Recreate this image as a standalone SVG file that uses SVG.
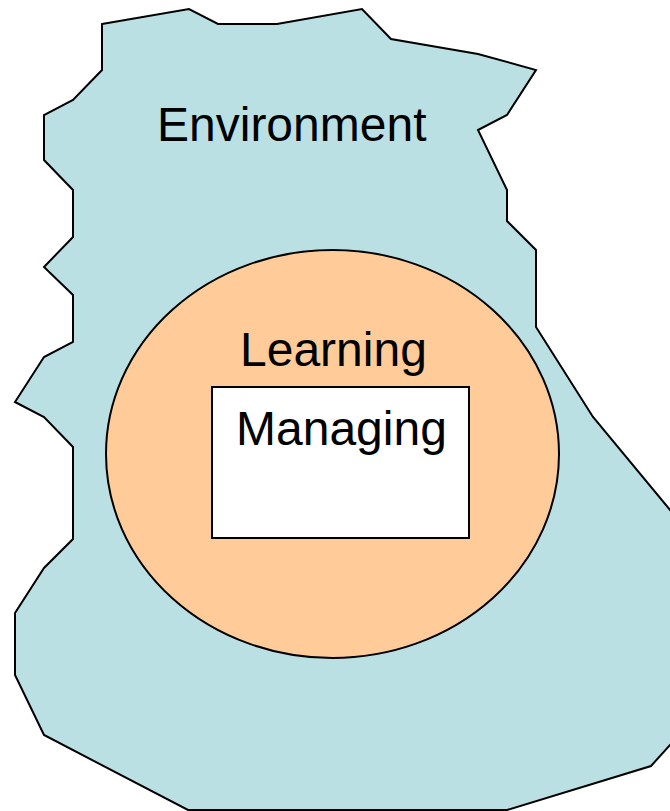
<svg xmlns="http://www.w3.org/2000/svg" width="670" height="811" viewBox="0 0 670 811">
<style>
.shape{stroke:#000;stroke-width:2;stroke-linejoin:miter}
.lbl{font-family:"Liberation Sans",Arial,sans-serif;font-size:48px;fill:#000}
</style>
<rect x="0" y="0" width="670" height="811" fill="#fff"/>
<g id="environment">
<polygon class="shape" fill="#BBE0E3" points="102,24 189,9 218,24 277,24 362,9 391,39 478,54 536,70 507,115 478,130 507,190 507,221 536,250 536,327 593,417 680,522 680,734 651,766 507,810 188,810 44,735 15,675 15,613 44,568 73,539 73,447 44,417 15,402 44,357 73,342 73,295 44,267 73,237 73,190 44,160 44,115 73,100 102,70"/>
<text class="lbl" x="157" y="141">Environment</text>
</g>
<g id="learning">
<ellipse class="shape" fill="#FFCC99" cx="332.5" cy="454" rx="226.5" ry="204"/>
<text class="lbl" x="240" y="366">Learning</text>
</g>
<g id="managing">
<rect class="shape" fill="#fff" x="212" y="387" width="257" height="151"/>
<text class="lbl" x="236" y="445">Managing</text>
</g>
<g id="connectors"/>
</svg>
